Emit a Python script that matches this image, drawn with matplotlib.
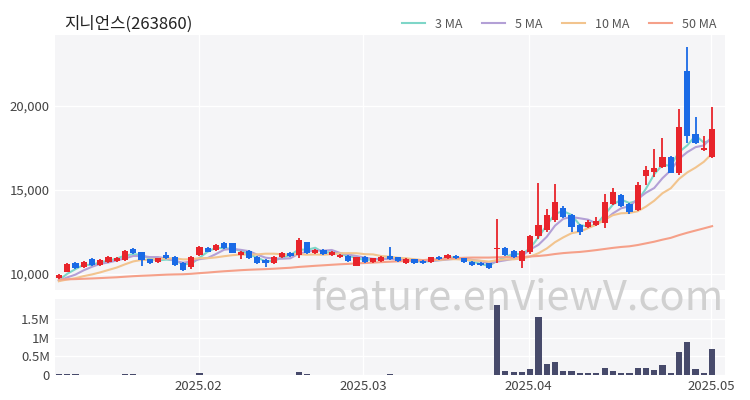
import numpy as np
import pandas as pd
import matplotlib.pyplot as plt
from matplotlib.ticker import FuncFormatter

plt.rcParams['font.family'] = ['Noto Sans CJK KR', 'DejaVu Sans']

# OHLC (one row per trading day)
opens = [9750, 10140, 10670, 10430, 10890, 10540, 10690, 10770, 10830, 11470,
         11290, 10870, 10730, 11130, 11030, 10670, 10430, 11130, 11560, 11430,
         11860, 11820, 11130, 11370, 11030, 10830, 10670, 10990, 11270, 11130,
         11880, 11230, 11430, 11130, 11030, 11070, 10500, 11030, 10730, 10790,
         11070, 10990, 10670, 10870, 10790, 10690, 11030, 10930, 11070, 10930,
         10730, 10670, 10630, 11470, 11560, 11370, 10770, 11330, 12260, 12620,
         13210, 13950, 13510, 12910, 12810, 12920, 13020, 14170, 14700, 14160,
         13810, 15830, 16090, 16350, 16980, 16030, 22040, 18330, 17380, 16980]
closes = [9950, 10580, 10340, 10730, 10540, 10830, 10990, 10930, 11370, 11230,
          10830, 10670, 10930, 10970, 10540, 10240, 11030, 11620, 11330, 11720,
          11530, 11270, 11330, 10930, 10670, 10640, 11030, 11270, 11070, 12020,
          11230, 11430, 11170, 11290, 11130, 10770, 10990, 10690, 10930, 11030,
          10870, 10770, 10890, 10670, 10640, 10990, 10870, 11130, 10930, 10730,
          10540, 10540, 10340, 11530, 11130, 10990, 11370, 12260, 12920, 13510,
          14300, 13410, 12810, 12520, 13110, 13170, 14300, 14900, 14050, 13710,
          15300, 16190, 16290, 16980, 16030, 18730, 18170, 17780, 17480, 18610]
highs = [10000, 10650, 10700, 10800, 10950, 10900, 11050, 11000, 11420, 11520,
         11330, 10920, 10980, 11300, 11080, 10720, 11080, 11680, 11600, 11780,
         11900, 11870, 11380, 11420, 11080, 10880, 11080, 11320, 11320, 12120,
         11930, 11480, 11470, 11340, 11180, 11120, 11040, 11080, 10980, 11080,
         11620, 11040, 10940, 10920, 10840, 11040, 11080, 11180, 11120, 10980,
         10780, 10720, 10680, 13250, 11610, 11420, 11420, 12300, 15430, 13850,
         15350, 14050, 13560, 12960, 13200, 13400, 14760, 15120, 14750, 14210,
         15490, 16390, 17420, 18070, 17030, 19820, 23490, 19320, 18210, 19920]
lows = [9700, 10100, 10300, 10350, 10490, 10490, 10640, 10720, 10780, 11180,
        10480, 10620, 10680, 10920, 10490, 10190, 10300, 11080, 11280, 11380,
        11480, 11220, 10900, 10880, 10620, 10400, 10620, 10940, 11020, 10930,
        11180, 11180, 11120, 11080, 10980, 10720, 10450, 10640, 10680, 10740,
        10820, 10720, 10620, 10620, 10590, 10640, 10820, 10880, 10880, 10680,
        10490, 10490, 10290, 10635, 11080, 10940, 10340, 11200, 12100, 12500,
        13100, 13300, 12500, 12300, 12760, 12870, 12750, 14100, 14000, 13550,
        13760, 15295, 15790, 16300, 15980, 15900, 17812, 17700, 17300, 16900]
# volume in millions of shares
volumes = [0.02, 0.02, 0.02, 0.01, 0.01, 0.01, 0.01, 0.01, 0.02, 0.02,
           0.01, 0.01, 0.01, 0.01, 0.01, 0.01, 0.01, 0.05, 0.01, 0.01,
           0.01, 0.01, 0.01, 0.01, 0.01, 0.01, 0.01, 0.01, 0.01, 0.07,
           0.03, 0.01, 0.01, 0.01, 0.01, 0.01, 0.01, 0.01, 0.01, 0.01,
           0.02, 0.01, 0.01, 0.01, 0.01, 0.01, 0.01, 0.01, 0.01, 0.01,
           0.01, 0.01, 0.01, 1.88, 0.11, 0.07, 0.07, 0.16, 1.54, 0.30,
           0.36, 0.10, 0.10, 0.06, 0.06, 0.06, 0.19, 0.12, 0.05, 0.05,
           0.18, 0.18, 0.14, 0.28, 0.05, 0.62, 0.89, 0.17, 0.05, 0.69]
# closes before the visible window (used only for the moving averages)
prev_closes = [9800, 9750, 9700, 9650, 9700, 9750, 9800, 9700, 9650, 9600,
               9700, 9750, 9800, 9850, 9750, 9700, 9650, 9600, 9650, 9700,
               9750, 9700, 9650, 9700, 9750, 9800, 9750, 9700, 9650, 9600,
               9650, 9700, 9700, 9650, 9600, 9550, 9600, 9650, 9700, 9650,
               9600, 9550, 9500, 9550, 9600, 9550, 9500, 9450, 9500]
month_ticks = [16.9, 36.8, 56.8, 78.9]
month_labels = ['2025.02', '2025.03', '2025.04', '2025.05']

red = '#e8242b'
blue = '#1a6ae6'
ma_cols = {3: '#7ed6c8', 5: '#b3a0d6', 10: '#f2c48e', 50: '#f5a089'}

n = len(closes)
x = np.arange(n)
allc = pd.Series(prev_closes + closes)

fig = plt.figure(figsize=(7.5, 4), dpi=100)
ax = fig.add_axes([0.073, 0.275, 0.893, 0.6375])
axv = fig.add_axes([0.073, 0.0625, 0.893, 0.19])
for a in (ax, axv):
    a.set_facecolor('#f5f5f7')
    for s in a.spines.values():
        s.set_visible(False)
    a.set_xlim(-0.5, 80.5)
    a.set_xticks(month_ticks)
    a.grid(True, axis='x', color='white', lw=1)
    a.grid(True, axis='y', color='white', lw=1)
    a.set_axisbelow(True)
    a.tick_params(length=0, labelsize=9.5, colors='#444')

lines = []
for w in (3, 5, 10, 50):
    ma = allc.rolling(w).mean().values[len(prev_closes):]
    l, = ax.plot(x, ma, color=ma_cols[w], lw=1.5, label=f'{w} MA')
    lines.append(l)

for i in range(n):
    c = red if closes[i] >= opens[i] else blue
    ax.vlines(x[i], lows[i], highs[i], color=c, lw=1.3, zorder=3)
    lo, hi = min(opens[i], closes[i]), max(opens[i], closes[i])
    ax.bar(x[i], max(hi - lo, 40), bottom=lo, width=0.75, color=c, zorder=4)

ax.set_ylim(9050, 24200)
ax.set_yticks([10000, 15000, 20000])
ax.yaxis.set_major_formatter(FuncFormatter(lambda v, p: f'{int(v):,}'))
ax.set_xticklabels([])

axv.bar(x, volumes, width=0.75, color='#474a6b')
axv.set_ylim(0, 2.03)
axv.set_yticks([0, 0.5, 1, 1.5])
axv.set_yticklabels(['0', '0.5M', '1M', '1.5M'])
axv.set_xticklabels(month_labels)

fig.text(0.085, 0.94, '지니언스(263860)', fontsize=12, color='#222', va='center')
fig.legend(handles=lines, loc='center right', bbox_to_anchor=(0.97, 0.94), ncol=4,
           frameon=False, fontsize=9, handlelength=1.8, columnspacing=1.6,
           labelcolor='#555')
fig.text(0.69, 0.255, 'feature.enViewV.com', fontsize=30, color='#d0d0d0',
         ha='center', va='center', zorder=0)

fig.savefig('out.png')
